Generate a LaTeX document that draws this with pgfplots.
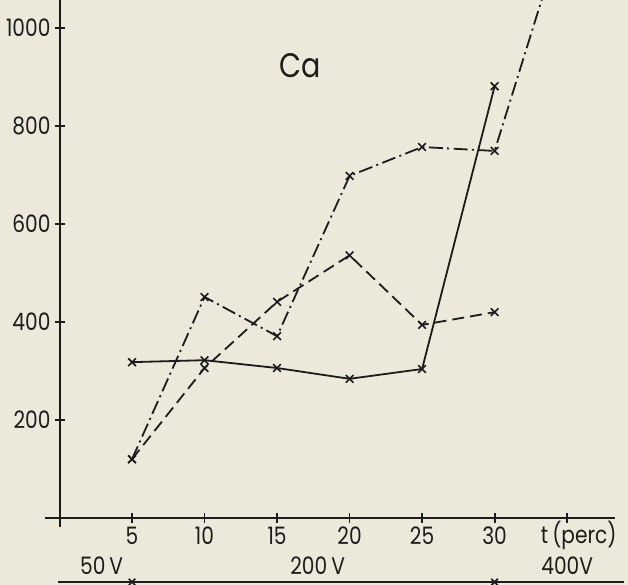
\documentclass[border=0pt]{standalone}
\usepackage{fontspec}
\setmainfont[FakeStretch=0.84]{Poppins}
\usepackage{pgfplots}
\pgfplotsset{compat=1.18}
\definecolor{paper}{RGB}{236,232,218}
\definecolor{ink}{RGB}{28,28,28}

\begin{document}
\begin{tikzpicture}[x=1pt,y=1pt]
% page = 628 x 585 px at 0.5pt per px
\fill[paper] (0,0) rectangle (314,292.5);
\useasboundingbox (0,0) rectangle (314,292.5);

\begin{axis}[
  at={(22.5pt,29pt)},anchor=south west,
  scale only axis,width=285pt,height=263.5pt,
  xmin=-1,xmax=38.3,ymin=-18.4,ymax=1057,
  axis lines=middle,
  axis line style={-,ink,line width=1pt},
  tick align=center,major tick length=5pt,
  tick style={ink,line width=0.9pt},
  xtick={5,10,15,20,25,30,35},
  xticklabels={5,10,15,20,25,30,},
  ytick={200,400,600,800,1000},
  /pgf/number format/assume math mode=true,
  /pgf/number format/1000 sep={},
  tick label style={font=\fontsize{12}{14}\selectfont,text=ink},
  xticklabel style={yshift=1.5pt},
  yticklabel style={xshift=1.5pt},
  clip mode=individual]

% solid
\addplot[ink,solid,line width=0.9pt,mark=x,mark size=2.7pt,
  mark options={solid,line width=0.8pt}]
  coordinates {(5,318) (10,322) (15,306) (20,284) (25,304) (30,881)};
% dashed
\addplot[ink,line width=0.9pt,dash pattern=on 6pt off 3pt,mark=x,mark size=2.7pt,
  mark options={solid,line width=0.8pt}] coordinates {
  (5,120) (10,306) (15,441) (20,536) (25,394) (30,420)};
% dash-dot
\addplot[ink,line width=0.9pt,dash pattern=on 7pt off 2.2pt on 1pt off 2.2pt,
  mark=x,mark size=2.7pt,mark options={solid,line width=0.8pt},
  mark indices={1,...,6}] coordinates {
  (5,120) (10,451) (15,371) (20,698) (25,757) (30,749) (35,1224)};

\node[font=\fontsize{17}{19}\selectfont,text=ink] at (axis cs:16.6,924) {Ca};
\node[font=\fontsize{12}{14}\selectfont,text=ink,anchor=base,inner sep=0pt]
  at (axis cs:35.8,-52) {t\,(perc)};
\end{axis}

% voltage scale under the time axis
\begin{axis}[
  at={(22.5pt,1.5pt)},anchor=south west,
  scale only axis,width=285pt,height=20pt,
  xmin=-1,xmax=38.3,ymin=0,ymax=1,
  hide axis,clip=false]
\addplot[ink,line width=0.9pt,mark=x,mark size=2.3pt,mark indices={2,3},
  mark options={line width=0.8pt}] coordinates {
  (-0.1,0) (5,0) (30,0) (38.9,0)};
\node[font=\fontsize{12}{14}\selectfont,text=ink,anchor=base] at (axis cs:2.9,0.2) {50\,V};
\node[font=\fontsize{12}{14}\selectfont,text=ink,anchor=base] at (axis cs:17.8,0.2) {200\,V};
\node[font=\fontsize{12}{14}\selectfont,text=ink,anchor=base] at (axis cs:35,0.2) {400V};
\end{axis}
\end{tikzpicture}
\end{document}
